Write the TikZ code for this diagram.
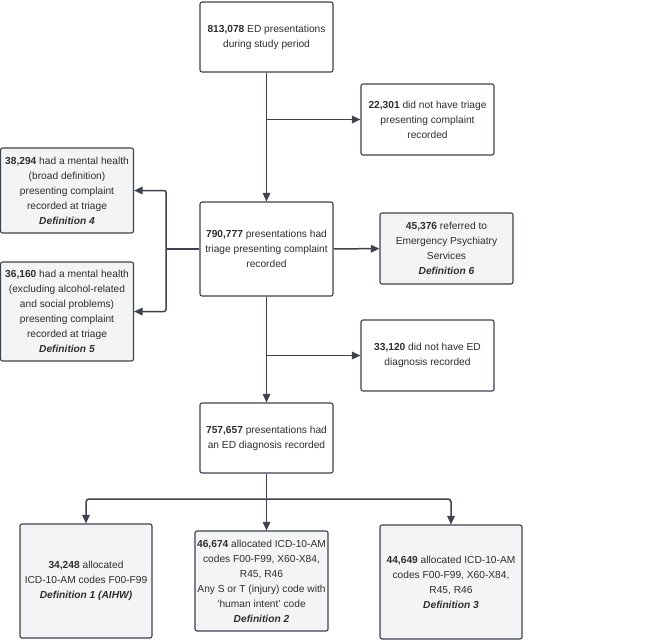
\documentclass[tikz,border=0pt]{standalone}
\usepackage{fontspec}
\setmainfont{Liberation Sans}
\usetikzlibrary{arrows.meta}
\definecolor{edge}{HTML}{3D424B}
\definecolor{paper}{HTML}{F3F4F6}
\definecolor{ink}{HTML}{2E2E2E}
\begin{document}
\begin{tikzpicture}[x=1pt, y=-1pt, line width=1.5pt, text=ink,
  box/.style = {draw=edge, line width=1.1pt, fill=white, rounded corners=2pt, align=center, minimum width=133pt, inner sep=2pt, font=\fontsize{10.2}{15}\selectfont},
  defbox/.style = {box, fill=paper},
  arr/.style = {draw=edge, -{Triangle[length=8.5pt,width=7.5pt]}}]
\useasboundingbox (0,0) rectangle (650,640);

\node[box] (1) at (266.5,37) [minimum height=70pt] {\textbf{813,078} ED presentations\\during study period};
\node[box] (2) at (427.5,119.5) [minimum height=71pt] {\textbf{22,301} did not have triage\\presenting complaint\\recorded};
\node[defbox] (3) at (67,190.5) [minimum height=85pt] {\textbf{38,294} had a mental health\\(broad definition)\\presenting complaint\\recorded at triage\\\textbf{\textit{Definition 4}}};
\node[box] (4) at (266.5,249) [minimum height=94pt] {\textbf{790,777} presentations had\\triage presenting complaint\\recorded};
\node[defbox] (5) at (446.5,248.5) [minimum height=71pt] {\textbf{45,376} referred to\\Emergency Psychiatry\\Services\\\textbf{\textit{Definition 6}}};
\node[defbox] (6) at (67,311.5) [minimum height=99pt] {\textbf{36,160} had a mental health\\(excluding alcohol-related\\and social problems)\\presenting complaint\\recorded at triage\\\textbf{\textit{Definition 5}}};
\node[box] (7) at (427.5,355.5) [minimum height=71pt] {\textbf{33,120} did not have ED\\diagnosis recorded};
\node[box] (8) at (266.5,438) [minimum height=70pt] {\textbf{757,657} presentations had\\an ED diagnosis recorded};
\node[defbox] (9) at (86,581) [minimum height=114pt, minimum width=132pt] {\textbf{34,248} allocated\\ICD-10-AM codes F00-F99\\\textbf{\textit{Definition 1 (AIHW)}}};
\node[defbox] (10) at (261.5,581) [minimum height=100pt] {\textbf{46,674} allocated ICD-10-AM\\codes F00-F99, X60-X84,\\R45, R46\\Any S or T (injury) code with\\`human intent' code\\\textbf{\textit{Definition 2}}};
\node[defbox] (11) at (451,582) [minimum height=114pt, minimum width=142pt] {\textbf{44,649} allocated ICD-10-AM\\codes F00-F99, X60-X84,\\R45, R46\\\textbf{\textit{Definition 3}}};

\coordinate (s) at (166,249);
\coordinate (j) at (266.5,499);

\draw[arr] (1) -- (4);
\draw[arr] (1.south |- 2.west) -- (2.west);
\draw[arr] (4) -- (5);
\draw[draw=edge] (4.west) -- (s);
\draw[arr, rounded corners=2pt] (s) |- (3.east);
\draw[arr, rounded corners=2pt] (s) |- (6.east);
\draw[arr] (4) -- (8);
\draw[arr] (4.south |- 7.west) -- (7.west);
\draw[arr] (8.south) -- (8.south |- 10.north);
\draw[arr, rounded corners=3pt] (j) -| (9.north);
\draw[arr, rounded corners=3pt] (j) -| (11.north);

\end{tikzpicture}
\end{document}
